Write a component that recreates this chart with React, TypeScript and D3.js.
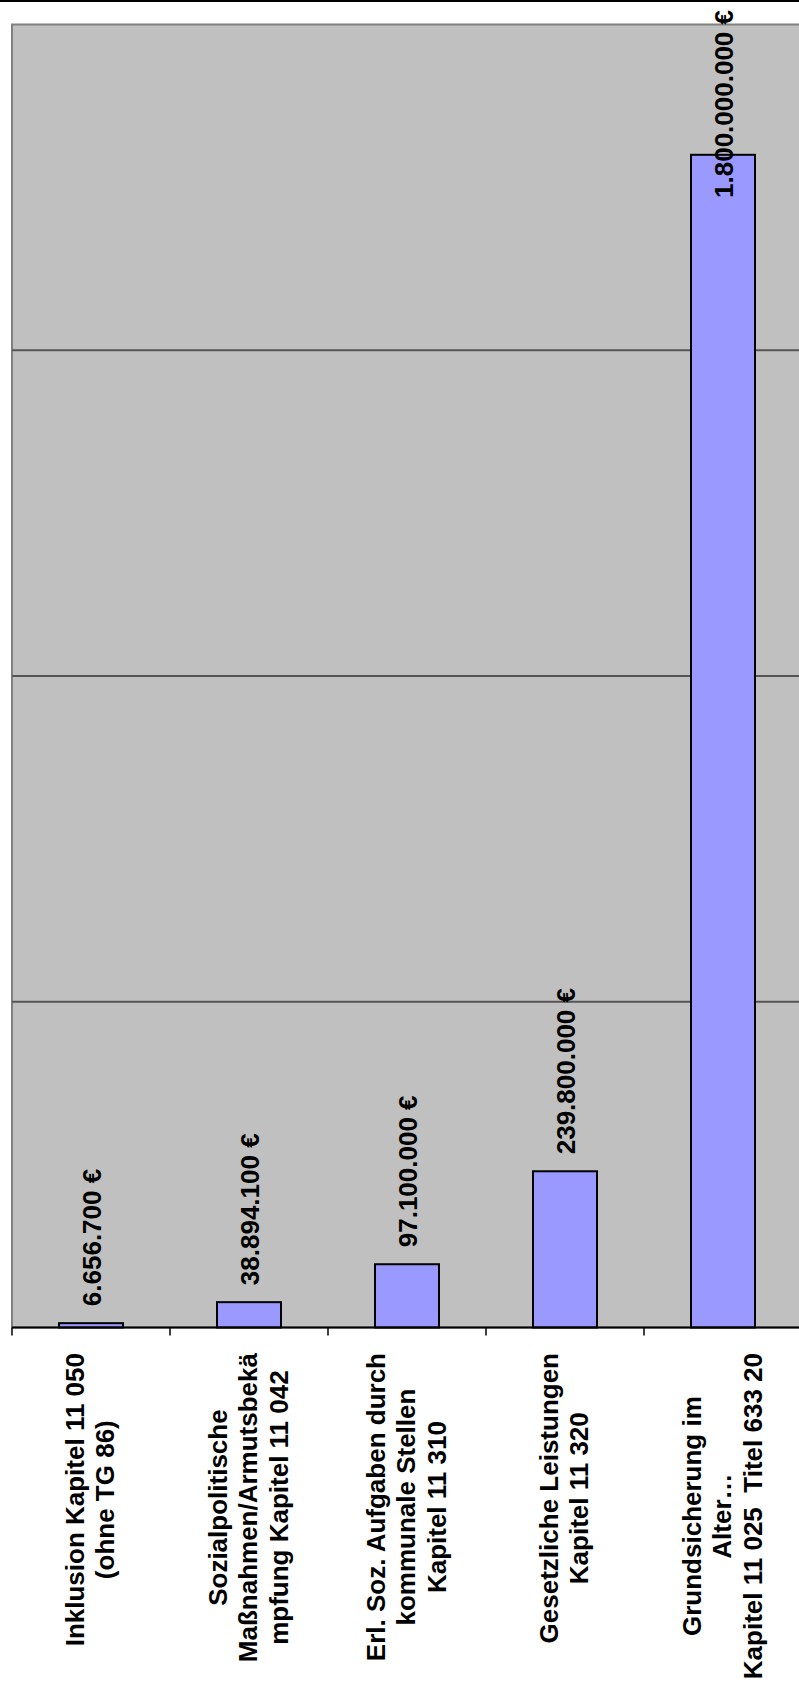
import React, { useEffect, useRef } from "react";
import * as d3 from "d3";

const categories: string[][] = [
  ["Inklusion Kapitel 11 050", "(ohne TG 86)"],
  ["Sozialpolitische", "Maßnahmen/Armutsbekä", "mpfung Kapitel 11 042"],
  ["Erl. Soz. Aufgaben durch", "kommunale Stellen", "Kapitel 11 310"],
  ["Gesetzliche Leistungen", "Kapitel 11 320"],
  ["Grundsicherung im", "Alter…", "Kapitel 11 025  Titel 633 20"],
];
const values: number[] = [6656700, 38894100, 97100000, 239800000, 1800000000];
const valueLabels: string[] = ["6.656.700 €", "38.894.100 €", "97.100.000 €", "239.800.000 €", "1.800.000.000 €"];
const yTicks: number[] = [0, 500000000, 1000000000, 1500000000, 2000000000];

const W = 799;
const H = 1692;
const FONT = "'Liberation Sans', Arial, sans-serif";

export default function App() {
  const ref = useRef<SVGSVGElement | null>(null);

  useEffect(() => {
    document.body.style.margin = "0";
    const svg = d3.select(ref.current);
    svg.selectAll("*").remove();

    const left = 12, right = 802, top = 24.5, bottom = 1327.5;
    const x = d3.scaleBand<number>().domain(d3.range(values.length)).range([left, right]).padding(0);
    const y = d3.scaleLinear().domain([0, 2000000000]).range([bottom, top]);
    const barW = x.bandwidth() * 0.405;

    svg.append("line").attr("x1", 0).attr("x2", W).attr("y1", 1).attr("y2", 1)
      .attr("stroke", "#000").attr("stroke-width", 2);

    svg.append("rect").attr("x", left).attr("y", top).attr("width", right - left).attr("height", bottom - top)
      .attr("fill", "#C0C0C0").attr("stroke", "#808080").attr("stroke-width", 2);

    svg.append("g").selectAll("line").data(yTicks.slice(1, -1)).join("line")
      .attr("x1", left).attr("x2", right)
      .attr("y1", (d) => y(d)).attr("y2", (d) => y(d))
      .attr("stroke", "#555").attr("stroke-width", 2);

    svg.append("g").selectAll("rect").data(values).join("rect")
      .attr("x", (_d, i) => (x(i) as number) + x.bandwidth() / 2 - barW / 2)
      .attr("y", (d) => y(d))
      .attr("width", barW)
      .attr("height", (d) => bottom - y(d))
      .attr("fill", "#9999FF").attr("stroke", "#000").attr("stroke-width", 2);

    svg.append("line").attr("x1", left).attr("x2", right).attr("y1", bottom).attr("y2", bottom)
      .attr("stroke", "#000").attr("stroke-width", 2);
    const ticks = d3.range(values.length + 1).map((i) => left + i * x.step());
    svg.append("g").selectAll("line").data(ticks).join("line")
      .attr("x1", (d) => d).attr("x2", (d) => d).attr("y1", bottom).attr("y2", bottom + 8)
      .attr("stroke", "#000").attr("stroke-width", 1.5);

    values.forEach((v, i) => {
      const cx = (x(i) as number) + x.bandwidth() / 2;
      const t = svg.append("text")
        .attr("font-family", FONT).attr("font-weight", "bold").attr("font-size", 26)
        .attr("fill", "#000").attr("text-anchor", "start")
        .text(valueLabels[i]);
      const L = (t.node() as SVGTextElement).getComputedTextLength();
      let start = y(v) - 17;
      if (start - L < 10) start = 10 + L;
      t.attr("transform", `translate(${cx + 10},${start}) rotate(-90)`);
    });

    categories.forEach((lines, i) => {
      const cx = (x(i) as number) + x.bandwidth() / 2;
      const g = svg.append("g");
      const texts = lines.map((ln) =>
        g.append("text")
          .attr("font-family", FONT).attr("font-weight", "bold").attr("font-size", 26)
          .attr("fill", "#000").attr("text-anchor", "middle")
          .attr("xml:space", "preserve")
          .style("white-space", "pre")
          .text(ln)
      );
      const maxL = d3.max(texts, (t) => (t.node() as SVGTextElement).getComputedTextLength()) || 0;
      const cy = 1353 + maxL / 2;
      const n = lines.length;
      texts.forEach((t, j) => {
        const bx = cx + (j - (n - 1) / 2) * 30.5 + 8;
        t.attr("transform", `translate(${bx},${cy}) rotate(-90)`);
      });
    });
  }, []);

  return <svg ref={ref} width={W} height={H} style={{ display: "block" }} />;
}
